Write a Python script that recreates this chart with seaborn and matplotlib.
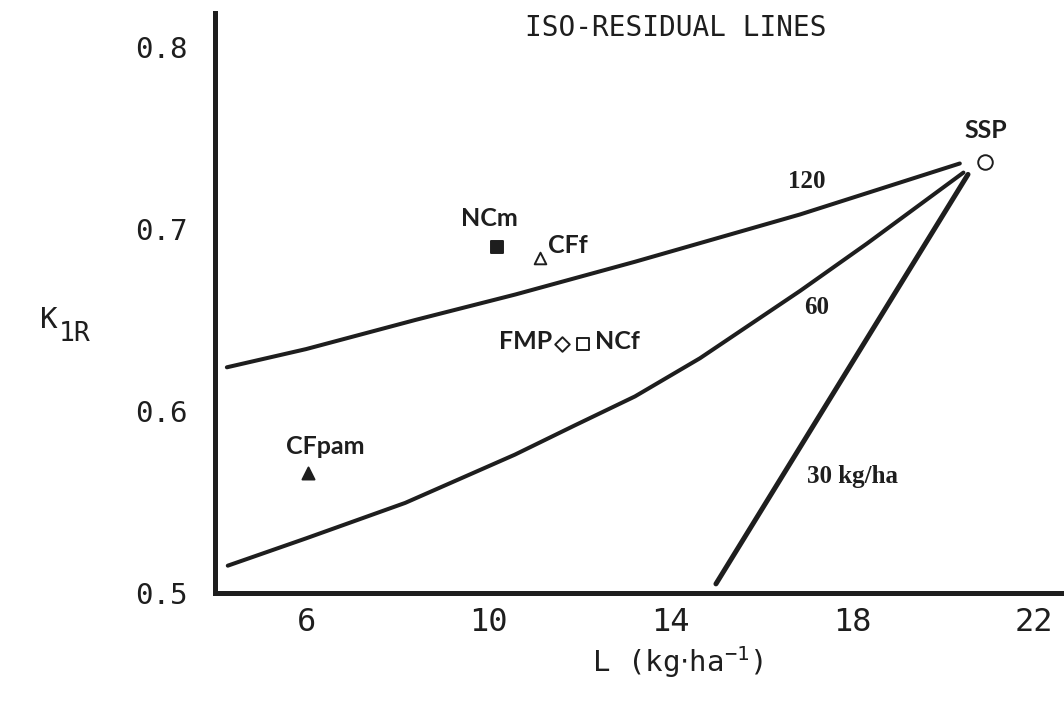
import matplotlib
matplotlib.use("Agg")
import matplotlib.pyplot as plt
import seaborn as sns
import pandas as pd

# Iso-residual lines: K1R against L for three residual levels
curve120_L = [4.26, 6.0, 8.4, 10.6, 13.23, 16.86, 20.37]
curve120_K = [0.624, 0.634, 0.650, 0.664, 0.682, 0.708, 0.736]
curve60_L = [4.28, 6.0, 8.18, 10.59, 11.9, 13.23, 14.66, 16.86, 18.33, 20.45]
curve60_K = [0.515, 0.530, 0.5495, 0.576, 0.592, 0.608, 0.629, 0.666, 0.692, 0.731]
curve30_L = [15.01, 20.55]
curve30_K = [0.505, 0.730]
curve_labels = ["120", "60", "30 kg/ha"]

# Treatments
treatments = ["NCm", "CFf", "FMP", "NCf", "CFpam", "SSP"]
treat_L = [10.2, 11.14, 11.63, 12.09, 6.04, 20.92]
treat_K = [0.690, 0.684, 0.637, 0.637, 0.566, 0.737]
treat_filled = [True, False, False, False, True, False]
treat_marker = {"NCm": "s", "CFf": "^", "FMP": "D", "NCf": "s", "CFpam": "^", "SSP": "o"}

x_ticks = [6, 10, 14, 18, 22]
y_ticks = [0.5, 0.6, 0.7, 0.8]

sns.set_style("white")
plt.rcParams["font.family"] = ["DejaVu Sans Mono", "DejaVu Sans"]

INK = "#1e1e1e"
fig = plt.figure(figsize=(10.64, 7.05), dpi=100)
ax = fig.add_axes([0.2021, 0.1589, 0.7979, 0.8227])

curves = [(curve120_L, curve120_K, 2.9), (curve60_L, curve60_K, 2.9), (curve30_L, curve30_K, 3.6)]
for cx, cy, lw in curves:
    df = pd.DataFrame({"L": cx, "K": cy})
    sns.lineplot(data=df, x="L", y="K", sort=False, estimator=None, color=INK,
                 linewidth=lw, ax=ax, legend=False, solid_joinstyle="round")

pts = pd.DataFrame({"treatment": treatments, "L": treat_L, "K": treat_K, "filled": treat_filled})
sizes = {"NCm": 80, "CFf": 70, "FMP": 55, "NCf": 75, "CFpam": 75, "SSP": 110}
for _, row in pts.iterrows():
    sub = pts[pts["treatment"] == row["treatment"]]
    sns.scatterplot(data=sub, x="L", y="K", marker=treat_marker[row["treatment"]],
                    s=sizes[row["treatment"]],
                    color=INK if row["filled"] else "white",
                    edgecolor=INK, linewidth=1.4, ax=ax, legend=False, zorder=5)

# Treatment labels
lab_font = dict(family="Lato", fontweight="bold", fontsize=18, color=INK)
ax.text(10.02, 0.7055, "NCm", ha="center", va="center", **lab_font)
ax.text(11.32, 0.691, "CFf", ha="left", va="center", **lab_font)
ax.text(11.41, 0.638, "FMP", ha="right", va="center", **lab_font)
ax.text(12.35, 0.638, "NCf", ha="left", va="center", **lab_font)
ax.text(6.42, 0.5765, "CFpam", ha="center", va="baseline", **lab_font)
ax.text(20.95, 0.754, "SSP", ha="center", va="center", **lab_font)

# Curve labels
num_font = dict(family="Liberation Serif", fontweight="bold", fontsize=18, color=INK)
ax.text(17.01, 0.726, curve_labels[0], ha="center", va="center", **num_font)
ax.text(17.23, 0.657, curve_labels[1], ha="center", va="center", **num_font)
ax.text(18.02, 0.564, curve_labels[2], ha="center", va="center", **num_font)

ax.text(14.13, 0.8105, "ISO-RESIDUAL LINES", ha="center", va="center",
        fontsize=20, color=INK)

ax.set_xlim(4, 22.66)
ax.set_ylim(0.5, 0.8187)
ax.set_xticks(x_ticks)
ax.set_yticks(y_ticks)
ax.set_xticklabels([str(t) for t in x_ticks])
ax.set_yticklabels([f"{t:.1f}" for t in y_ticks])
ax.tick_params(axis="both", length=0, labelsize=21, colors=INK)
ax.tick_params(axis="y", pad=20)
ax.tick_params(axis="x", pad=10, labelsize=23)

for side in ["top", "right"]:
    ax.spines[side].set_visible(False)
for side in ["left", "bottom"]:
    ax.spines[side].set_linewidth(3.6)
    ax.spines[side].set_color(INK)

ax.set_xlabel("")
ax.set_ylabel("")
fig.text(678 / 1064, 1 - 662 / 705, r"L (kg$\cdot$ha$^{\mathregular{-1}}$)", ha="center",
         va="center", fontsize=21, color=INK)
fig.text(40 / 1064, 1 - 320 / 705, "K", ha="left", va="center", fontsize=21, color=INK)
fig.text(59 / 1064, 1 - 334 / 705, "1R", ha="left", va="center", fontsize=19, color=INK)

fig.savefig("out.png", dpi=100, facecolor="white")
